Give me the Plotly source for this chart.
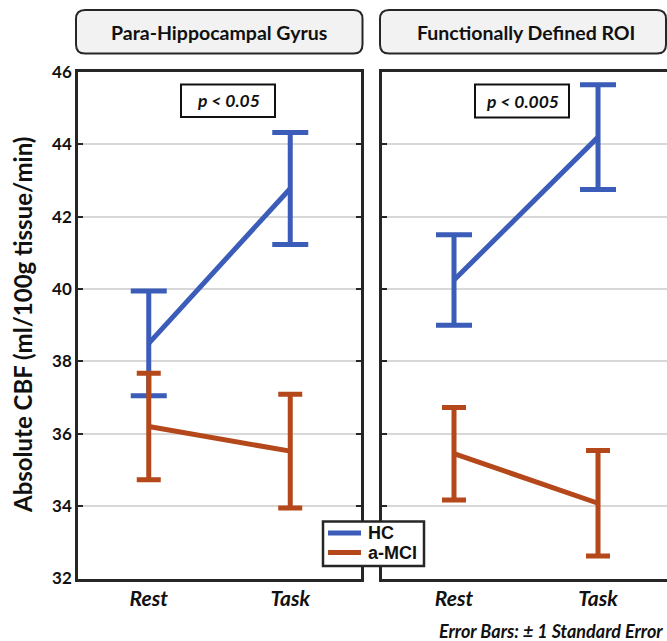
import plotly.graph_objects as go

# ---- data ----
categories = ["Rest", "Task"]
panel_titles = ["Para-Hippocampal Gyrus", "Functionally Defined ROI"]
p_labels = ["p < 0.05", "p < 0.005"]
groups = ["HC", "a-MCI"]

hc_para = [38.5, 42.78]
hc_para_se = [1.45, 1.55]
mci_para = [36.2, 35.52]
mci_para_se = [1.47, 1.57]

hc_roi = [40.25, 44.2]
hc_roi_se = [1.25, 1.45]
mci_roi = [35.45, 34.08]
mci_roi_se = [1.28, 1.46]

y_ticks = [32, 34, 36, 38, 40, 42, 44, 46]

# ---- style ----
W, H = 667, 641
BLUE = "#3B5CB8"
ORANGE = "#B4481B"
COLORS = [BLUE, ORANGE]
FRAME = "#262626"
GRID = "#d8d8d8"
FONT = "Lato"

def px(x):
    return x / W

def py(y):
    return 1 - y / H

fig = go.Figure()

series = [
    (hc_para, hc_para_se, mci_para, mci_para_se, "x", "y"),
    (hc_roi, hc_roi_se, mci_roi, mci_roi_se, "x2", "y2"),
]
for hc, hcse, mci, mcise, xa, ya in series:
    fig.add_trace(go.Scatter(
        x=categories, y=hc, mode="lines", name=groups[0],
        line=dict(color=BLUE, width=5),
        error_y=dict(type="data", array=hcse, color=BLUE, thickness=5, width=18),
        xaxis=xa, yaxis=ya, showlegend=False))
    fig.add_trace(go.Scatter(
        x=categories, y=mci, mode="lines", name=groups[1],
        line=dict(color=ORANGE, width=5),
        error_y=dict(type="data", array=mcise, color=ORANGE, thickness=5, width=12),
        xaxis=xa, yaxis=ya, showlegend=False))

ydom = [py(578.5), py(72)]
xdom1 = [px(78), px(361)]
xdom2 = [px(382), 1.0]

xcommon = dict(type="category", showline=True, mirror=True, linecolor=FRAME,
               linewidth=2.5, showgrid=False, ticks="", zeroline=False,
               tickfont=dict(family=FONT, size=21, color="#111", weight="bold", style="italic"),
               ticklabelstandoff=0)
ycommon = dict(range=[32, 46], tickvals=y_ticks, showgrid=True, gridcolor=GRID,
               gridwidth=1.5, ticks="inside", ticklen=5, tickwidth=2, tickcolor=FRAME,
               showline=True, linecolor=FRAME, linewidth=2.5, zeroline=False,
               domain=ydom,
               tickfont=dict(family=FONT, size=17, color="#111", weight="bold"))

fig.update_layout(
    width=W, height=H,
    margin=dict(l=0, r=0, t=0, b=0, autoexpand=False),
    paper_bgcolor="white", plot_bgcolor="white",
    xaxis=dict(domain=xdom1, range=[-0.5, 1.5], anchor="y", **xcommon),
    xaxis2=dict(domain=xdom2, range=[-0.5, 1.479], anchor="y2", **xcommon),
    yaxis=dict(anchor="x", mirror="ticks", **ycommon),
    yaxis2=dict(anchor="x2", mirror=False, showticklabels=False, **ycommon),
    showlegend=False,
)

def rounded_rect(x0, y0, x1, y1, r):
    pts = [
        f"M {px(x0 + r)} {py(y0)}",
        f"L {px(x1 - r)} {py(y0)}",
        f"Q {px(x1)} {py(y0)} {px(x1)} {py(y0 + r)}",
        f"L {px(x1)} {py(y1 - r)}",
        f"Q {px(x1)} {py(y1)} {px(x1 - r)} {py(y1)}",
        f"L {px(x0 + r)} {py(y1)}",
        f"Q {px(x0)} {py(y1)} {px(x0)} {py(y1 - r)}",
        f"L {px(x0)} {py(y0 + r)}",
        f"Q {px(x0)} {py(y0)} {px(x0 + r)} {py(y0)}",
        "Z",
    ]
    return " ".join(pts)

# panel strip titles
strip_boxes = [(76, 10, 362.5, 53.5), (380, 10, 666, 53.5)]
strip_centers = [219, 526]
for (x0, y0, x1, y1), cx, title in zip(strip_boxes, strip_centers, panel_titles):
    fig.add_shape(type="path", xref="paper", yref="paper",
                  path=rounded_rect(x0, y0, x1, y1, 9),
                  fillcolor="#f2f2f2", line=dict(color=FRAME, width=2), layer="below")
    fig.add_annotation(x=px(cx), y=py(33), xref="paper", yref="paper",
                       text=title, showarrow=False, xanchor="center", yanchor="middle",
                       font=dict(family=FONT, size=19.5, color="#111", weight="bold"))

# p-value boxes
p_boxes = [(181, 84.5, 275, 117), (475, 84.5, 569, 117.5)]
for (x0, y0, x1, y1), lab in zip(p_boxes, p_labels):
    fig.add_shape(type="rect", xref="paper", yref="paper",
                  x0=px(x0), x1=px(x1), y0=py(y1), y1=py(y0),
                  fillcolor="white", line=dict(color="#111", width=2))
    fig.add_annotation(x=px((x0 + x1) / 2), y=py((y0 + y1) / 2), xref="paper", yref="paper",
                       text=lab, showarrow=False, xanchor="center", yanchor="middle",
                       font=dict(family=FONT, size=17.5, color="#111", weight="bold", style="italic"))

# y-axis title
fig.add_annotation(x=px(23), y=py(325), xref="paper", yref="paper",
                   text="Absolute CBF (ml/100g tissue/min)", textangle=-90,
                   showarrow=False, xanchor="center", yanchor="middle",
                   font=dict(family=FONT, size=24, color="#111", weight="bold"))

# footnote
fig.add_annotation(x=px(665), y=py(631), xref="paper", yref="paper",
                   text="Error Bars: ± 1 Standard Error", showarrow=False,
                   xanchor="right", yanchor="middle",
                   font=dict(family=FONT, size=18, color="#111", weight="bold", style="italic"))

# legend (drawn box, swatches and labels)
fig.add_shape(type="rect", xref="paper", yref="paper",
              x0=px(323), x1=px(424), y0=py(566), y1=py(521.5),
              fillcolor="white", line=dict(color=FRAME, width=2.5))
for i, (g, c) in enumerate(zip(groups, COLORS)):
    yy = 533 + i * 19.5
    fig.add_shape(type="line", xref="paper", yref="paper",
                  x0=px(328), x1=px(361), y0=py(yy), y1=py(yy),
                  line=dict(color=c, width=5))
    fig.add_annotation(x=px(366), y=py(yy), xref="paper", yref="paper",
                       text=g, showarrow=False, xanchor="left", yanchor="middle",
                       font=dict(family="Liberation Sans", size=18, color="#111", weight="bold"))

fig.write_html("out.html", config={"displayModeBar": False},
               post_script="document.body.style.margin='0';document.body.style.overflow='hidden';")
